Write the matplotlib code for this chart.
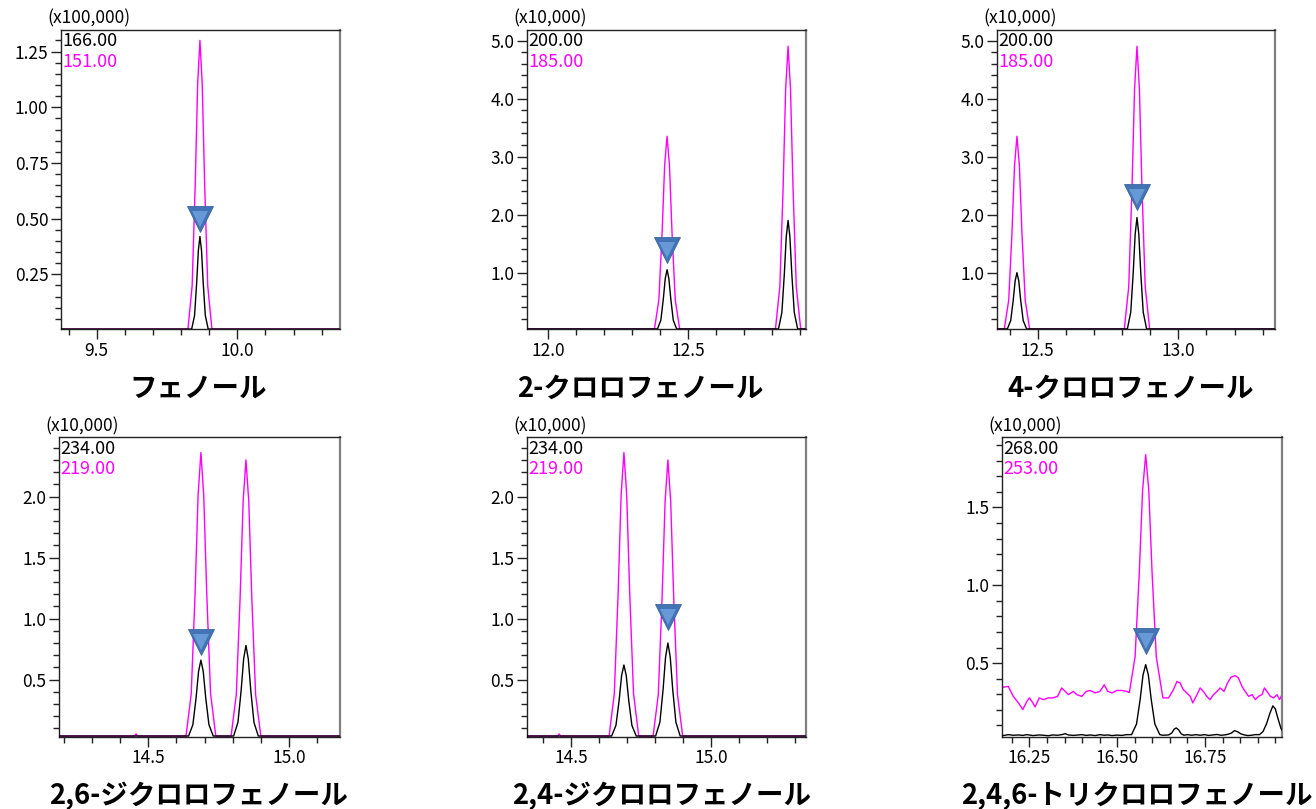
"""Cromatogramas de massa (SIM) de seis fenois clorados em grade 2x3."""

import matplotlib.pyplot as plt
from matplotlib.ticker import FormatStrFormatter, MultipleLocator

plt.rcParams["font.family"] = ["Noto Sans CJK JP", "DejaVu Sans"]

TITLES = [
    "フェノール",
    "2-クロロフェノール",
    "4-クロロフェノール",
    "2,6-ジクロロフェノール",
    "2,4-ジクロロフェノール",
    "2,4,6-トリクロロフェノール",
]
ION_BLACK = ["166.00", "200.00", "200.00", "234.00", "234.00", "268.00"]
ION_PINK = ["151.00", "185.00", "185.00", "219.00", "219.00", "253.00"]
SCALE_LABELS = ["(x100,000)", "(x10,000)", "(x10,000)", "(x10,000)", "(x10,000)", "(x10,000)"]

X_RANGES = [(9.373, 10.365), (11.924, 12.920), (12.355, 13.344),
            (14.183, 15.181), (14.343, 15.339), (16.172, 16.969)]
Y_RANGES = [(0.002, 1.349), (0.02, 5.19), (0.02, 5.19),
            (0.034, 2.488), (0.034, 2.488), (0.028, 1.953)]

# posicao do triangulo (pico identificado)
MARK_T = [9.867, 12.424, 12.853, 14.687, 14.846, 16.581]
MARK_V = [0.50, 1.39, 2.30, 0.81, 1.01, 0.64]

# --- tracos (tempo em min, intensidade na escala do eixo)
P1_BLACK_T = [9.30, 9.8376, 9.8479, 9.8554, 9.8614, 9.867, 9.8726, 9.8786, 9.8861, 9.8964, 10.45]
P1_BLACK_V = [0.004, 0.004, 0.065, 0.212, 0.357, 0.42, 0.357, 0.212, 0.065, 0.004, 0.004]
P1_PINK_T = [9.30, 9.8244, 9.8393, 9.8502, 9.8589, 9.867, 9.8751, 9.8838, 9.8947, 9.9096, 10.45]
P1_PINK_V = [0.004, 0.004, 0.198, 0.652, 1.105, 1.30, 1.105, 0.652, 0.198, 0.004, 0.004]

P2_BLACK_T = [11.85, 12.3898, 12.4018, 12.4105, 12.4175, 12.424, 12.4305, 12.4375, 12.4462, 12.4582,
              12.8218, 12.8338, 12.8425, 12.8495, 12.856, 12.8625, 12.8695, 12.8782, 12.8902, 13.0]
P2_BLACK_V = [0.03, 0.03, 0.18, 0.54, 0.897, 1.05, 0.897, 0.54, 0.18, 0.03,
              0.03, 0.31, 0.965, 1.62, 1.90, 1.62, 0.965, 0.31, 0.03, 0.03]
P2_PINK_T = [11.85, 12.379, 12.3947, 12.4063, 12.4154, 12.424, 12.4326, 12.4417, 12.4533, 12.469,
             12.811, 12.8267, 12.8383, 12.8474, 12.856, 12.8646, 12.8737, 12.8853, 12.901, 13.0]
P2_PINK_V = [0.03, 0.03, 0.528, 1.69, 2.852, 3.35, 2.852, 1.69, 0.528, 0.03,
             0.03, 0.76, 2.465, 4.17, 4.90, 4.17, 2.465, 0.76, 0.03, 0.03]

P3_BLACK_T = [12.30, 12.3918, 12.4038, 12.4125, 12.4195, 12.426, 12.4325, 12.4395, 12.4482, 12.4602,
              12.8188, 12.8308, 12.8395, 12.8465, 12.853, 12.8595, 12.8665, 12.8752, 12.8872, 13.40]
P3_BLACK_V = [0.03, 0.03, 0.175, 0.515, 0.855, 1.0, 0.855, 0.515, 0.175, 0.03,
              0.03, 0.318, 0.99, 1.662, 1.95, 1.662, 0.99, 0.318, 0.03, 0.03]
P3_PINK_T = [12.30, 12.381, 12.3967, 12.4083, 12.4174, 12.426, 12.4346, 12.4437, 12.4553, 12.471,
             12.808, 12.8237, 12.8353, 12.8444, 12.853, 12.8616, 12.8707, 12.8823, 12.898, 13.40]
P3_PINK_V = [0.03, 0.03, 0.528, 1.69, 2.852, 3.35, 2.852, 1.69, 0.528, 0.03,
             0.03, 0.76, 2.465, 4.17, 4.90, 4.17, 2.465, 0.76, 0.03, 0.03]

P4_BLACK_T = [14.10, 14.6432, 14.6585, 14.6698, 14.6787, 14.687, 14.6953, 14.7042, 14.7155, 14.7308,
              14.8032, 14.8185, 14.8298, 14.8387, 14.847, 14.8553, 14.8642, 14.8755, 14.8908, 15.25]
P4_BLACK_V = [0.038, 0.038, 0.131, 0.349, 0.567, 0.66, 0.567, 0.349, 0.131, 0.038,
              0.038, 0.149, 0.409, 0.669, 0.78, 0.669, 0.409, 0.149, 0.038, 0.038]
P4_PINK_T = [14.10, 14.452, 14.457, 14.462, 14.6342, 14.6527, 14.6662, 14.677, 14.687, 14.697,
             14.7078, 14.7213, 14.7398, 14.7942, 14.8127, 14.8262, 14.837, 14.847, 14.857,
             14.8678, 14.8813, 14.8998, 15.25]
P4_PINK_V = [0.038, 0.038, 0.055, 0.038, 0.038, 0.386, 1.199, 2.012, 2.36, 2.012,
             1.199, 0.386, 0.038, 0.038, 0.377, 1.169, 1.961, 2.30, 1.961,
             1.169, 0.377, 0.038, 0.038]

P5_BLACK_T = [14.25, 14.6452, 14.6605, 14.6718, 14.6807, 14.689, 14.6973, 14.7062, 14.7175, 14.7328,
              14.8022, 14.8175, 14.8288, 14.8377, 14.846, 14.8543, 14.8632, 14.8745, 14.8898, 15.40]
P5_BLACK_V = [0.038, 0.038, 0.125, 0.329, 0.533, 0.62, 0.533, 0.329, 0.125, 0.038,
              0.038, 0.152, 0.419, 0.686, 0.80, 0.686, 0.419, 0.152, 0.038, 0.038]
P5_PINK_T = [14.25, 14.453, 14.458, 14.463, 14.6362, 14.6547, 14.6682, 14.679, 14.689, 14.699,
             14.7098, 14.7233, 14.7418, 14.7932, 14.8117, 14.8252, 14.836, 14.846, 14.856,
             14.8668, 14.8803, 14.8988, 15.40]
P5_PINK_V = [0.038, 0.038, 0.055, 0.038, 0.038, 0.386, 1.199, 2.012, 2.36, 2.012,
             1.199, 0.386, 0.038, 0.038, 0.377, 1.169, 1.961, 2.30, 1.961,
             1.169, 0.377, 0.038, 0.038]

P6_BLACK_T = [16.160, 16.176, 16.190, 16.204, 16.219, 16.231, 16.243, 16.260, 16.278, 16.290,
              16.304, 16.317, 16.330, 16.342, 16.352, 16.361, 16.375, 16.399, 16.412, 16.423,
              16.437, 16.451, 16.463, 16.473, 16.485, 16.499, 16.513, 16.527,
              16.5408, 16.5549, 16.5652, 16.5734, 16.581, 16.5886, 16.5968, 16.6071, 16.6212,
              16.630, 16.646, 16.655, 16.662, 16.668, 16.675, 16.682, 16.690, 16.700, 16.712,
              16.724, 16.736, 16.748, 16.760, 16.772, 16.784, 16.795, 16.805, 16.815, 16.825,
              16.834, 16.843, 16.852, 16.862, 16.872, 16.882, 16.892, 16.905, 16.915, 16.925,
              16.935, 16.943, 16.950, 16.958, 16.966, 16.975]
P6_BLACK_V = [0.036, 0.034, 0.040, 0.036, 0.038, 0.035, 0.040, 0.034, 0.038, 0.036,
              0.033, 0.038, 0.036, 0.040, 0.046, 0.038, 0.035, 0.040, 0.035, 0.038,
              0.034, 0.040, 0.036, 0.038, 0.034, 0.037, 0.035, 0.040,
              0.040, 0.108, 0.265, 0.423, 0.490, 0.423, 0.265, 0.108, 0.040,
              0.036, 0.038, 0.050, 0.075, 0.083, 0.070, 0.045, 0.036, 0.040, 0.036,
              0.040, 0.036, 0.040, 0.035, 0.038, 0.041, 0.036, 0.038, 0.042, 0.050,
              0.066, 0.058, 0.045, 0.038, 0.034, 0.036, 0.040, 0.040, 0.060, 0.110,
              0.180, 0.225, 0.205, 0.140, 0.080, 0.050]
P6_PINK_T = [16.160, 16.175, 16.190, 16.204, 16.219, 16.231, 16.243, 16.250, 16.260, 16.266,
             16.278, 16.290, 16.304, 16.317, 16.330, 16.342, 16.352, 16.361, 16.375, 16.385,
             16.399, 16.412, 16.423, 16.437, 16.451, 16.463, 16.473, 16.485, 16.499, 16.513,
             16.527, 16.5345, 16.5508, 16.5627, 16.5722, 16.581, 16.5898, 16.5993, 16.6112,
             16.6275, 16.630, 16.646, 16.660, 16.670, 16.679, 16.688, 16.698, 16.708, 16.715,
             16.727, 16.736, 16.745, 16.755, 16.764, 16.774, 16.784, 16.793, 16.804, 16.814,
             16.824, 16.836, 16.845, 16.855, 16.864, 16.874, 16.884, 16.893, 16.902, 16.912,
             16.919, 16.926, 16.936, 16.945, 16.955, 16.962, 16.969, 16.974]
P6_PINK_V = [0.330, 0.345, 0.350, 0.286, 0.244, 0.201, 0.254, 0.276, 0.244, 0.218,
             0.276, 0.265, 0.276, 0.276, 0.286, 0.340, 0.318, 0.297, 0.318, 0.297,
             0.286, 0.318, 0.324, 0.308, 0.318, 0.361, 0.318, 0.308, 0.324, 0.324,
             0.318, 0.310, 0.540, 1.075, 1.611, 1.840, 1.611, 1.075, 0.540,
             0.310, 0.276, 0.276, 0.329, 0.382, 0.372, 0.329, 0.308, 0.286, 0.244,
             0.297, 0.340, 0.318, 0.286, 0.265, 0.297, 0.318, 0.340, 0.318, 0.372,
             0.410, 0.419, 0.404, 0.350, 0.318, 0.286, 0.297, 0.265, 0.286, 0.297,
             0.340, 0.318, 0.286, 0.276, 0.297, 0.265, 0.297, 0.324]

BLACK_T = [P1_BLACK_T, P2_BLACK_T, P3_BLACK_T, P4_BLACK_T, P5_BLACK_T, P6_BLACK_T]
BLACK_V = [P1_BLACK_V, P2_BLACK_V, P3_BLACK_V, P4_BLACK_V, P5_BLACK_V, P6_BLACK_V]
PINK_T = [P1_PINK_T, P2_PINK_T, P3_PINK_T, P4_PINK_T, P5_PINK_T, P6_PINK_T]
PINK_V = [P1_PINK_V, P2_PINK_V, P3_PINK_V, P4_PINK_V, P5_PINK_V, P6_PINK_V]

# layout em pixels: (esquerda, topo, direita, base)
FIG_W, FIG_H = 1316, 809
BOXES = [(61, 29.5, 340, 329.5), (527, 29.5, 806, 329.5), (997, 29.5, 1275, 329.5),
         (59, 437, 340, 736.5), (527, 437, 806, 736.5), (1002, 437, 1282, 736.5)]
# centro horizontal dos titulos (px)
TITLE_X = [198, 640, 1131, 199, 662, 1137]
# (passo maior x, menor x, formato x, maior y, menor y, formato y)
STEPS = [(0.5, 0.1, "%.1f", 0.25, 0.05, "%.2f"),
         (0.5, 0.1, "%.1f", 1.0, 0.2, "%.1f"),
         (0.5, 0.1, "%.1f", 1.0, 0.2, "%.1f"),
         (0.5, 0.1, "%.1f", 0.5, 0.1, "%.1f"),
         (0.5, 0.1, "%.1f", 0.5, 0.1, "%.1f"),
         (0.25, 0.05, "%.2f", 0.5, 0.1, "%.1f")]

PINK = "#ff00ff"
TRI_DARK = "#4273b5"
TRI_LIGHT = "#78aae6"


def style_axes(ax, steps):
    xmaj, xmin, xfmt, ymaj, ymin, yfmt = steps
    ax.xaxis.set_major_locator(MultipleLocator(xmaj))
    ax.xaxis.set_minor_locator(MultipleLocator(xmin))
    ax.yaxis.set_major_locator(MultipleLocator(ymaj))
    ax.yaxis.set_minor_locator(MultipleLocator(ymin))
    ax.xaxis.set_major_formatter(FormatStrFormatter(xfmt))
    ax.yaxis.set_major_formatter(FormatStrFormatter(yfmt))
    ax.tick_params(which="both", direction="out", width=1.0, colors="#222222",
                   labelcolor="black", labelsize=12.5)
    ax.tick_params(which="major", length=7.5, pad=1.5)
    ax.tick_params(which="minor", length=4.5)
    for side in ("left", "bottom", "top"):
        ax.spines[side].set_linewidth(1.0)
        ax.spines[side].set_color("#222222")
    ax.spines["right"].set_linewidth(1.6)
    ax.spines["right"].set_color("#808080")


def main():
    fig = plt.figure(figsize=(FIG_W / 100, FIG_H / 100), dpi=100)

    for i in range(6):
        left, top, right, bottom = BOXES[i]
        ax = fig.add_axes([left / FIG_W, 1 - bottom / FIG_H,
                           (right - left) / FIG_W, (bottom - top) / FIG_H])
        ax.plot(PINK_T[i], PINK_V[i], color=PINK, lw=1.0, zorder=2)
        ax.plot(BLACK_T[i], BLACK_V[i], color="black", lw=1.0, zorder=3)

        ax.plot([MARK_T[i]], [MARK_V[i]], marker="v", ms=19, color=TRI_DARK,
                markeredgecolor="#3a67a3", markeredgewidth=0.6, zorder=4)
        ax.plot([MARK_T[i]], [MARK_V[i]], marker="v", ms=11, color=TRI_LIGHT,
                markeredgewidth=0, alpha=0.7, zorder=5)

        ax.set_xlim(*X_RANGES[i])
        ax.set_ylim(*Y_RANGES[i])
        style_axes(ax, STEPS[i])

        h = bottom - top
        ax.text(0.004, 1 - 11.5 / h, ION_BLACK[i], transform=ax.transAxes,
                color="black", fontsize=13, va="center", ha="left")
        ax.text(0.004, 1 - 32.5 / h, ION_PINK[i], transform=ax.transAxes,
                color=PINK, fontsize=13, va="center", ha="left")

        fig.text((left - 14) / FIG_W, 1 - (top - 11) / FIG_H, SCALE_LABELS[i],
                 fontsize=12.5, va="center", ha="left")
        fig.text(TITLE_X[i] / FIG_W, 1 - (bottom + 59.5) / FIG_H, TITLES[i],
                 fontsize=19.8, fontweight="bold", va="center", ha="center")

    fig.savefig("out.png", dpi=100)
    plt.close(fig)


if __name__ == "__main__":
    main()
